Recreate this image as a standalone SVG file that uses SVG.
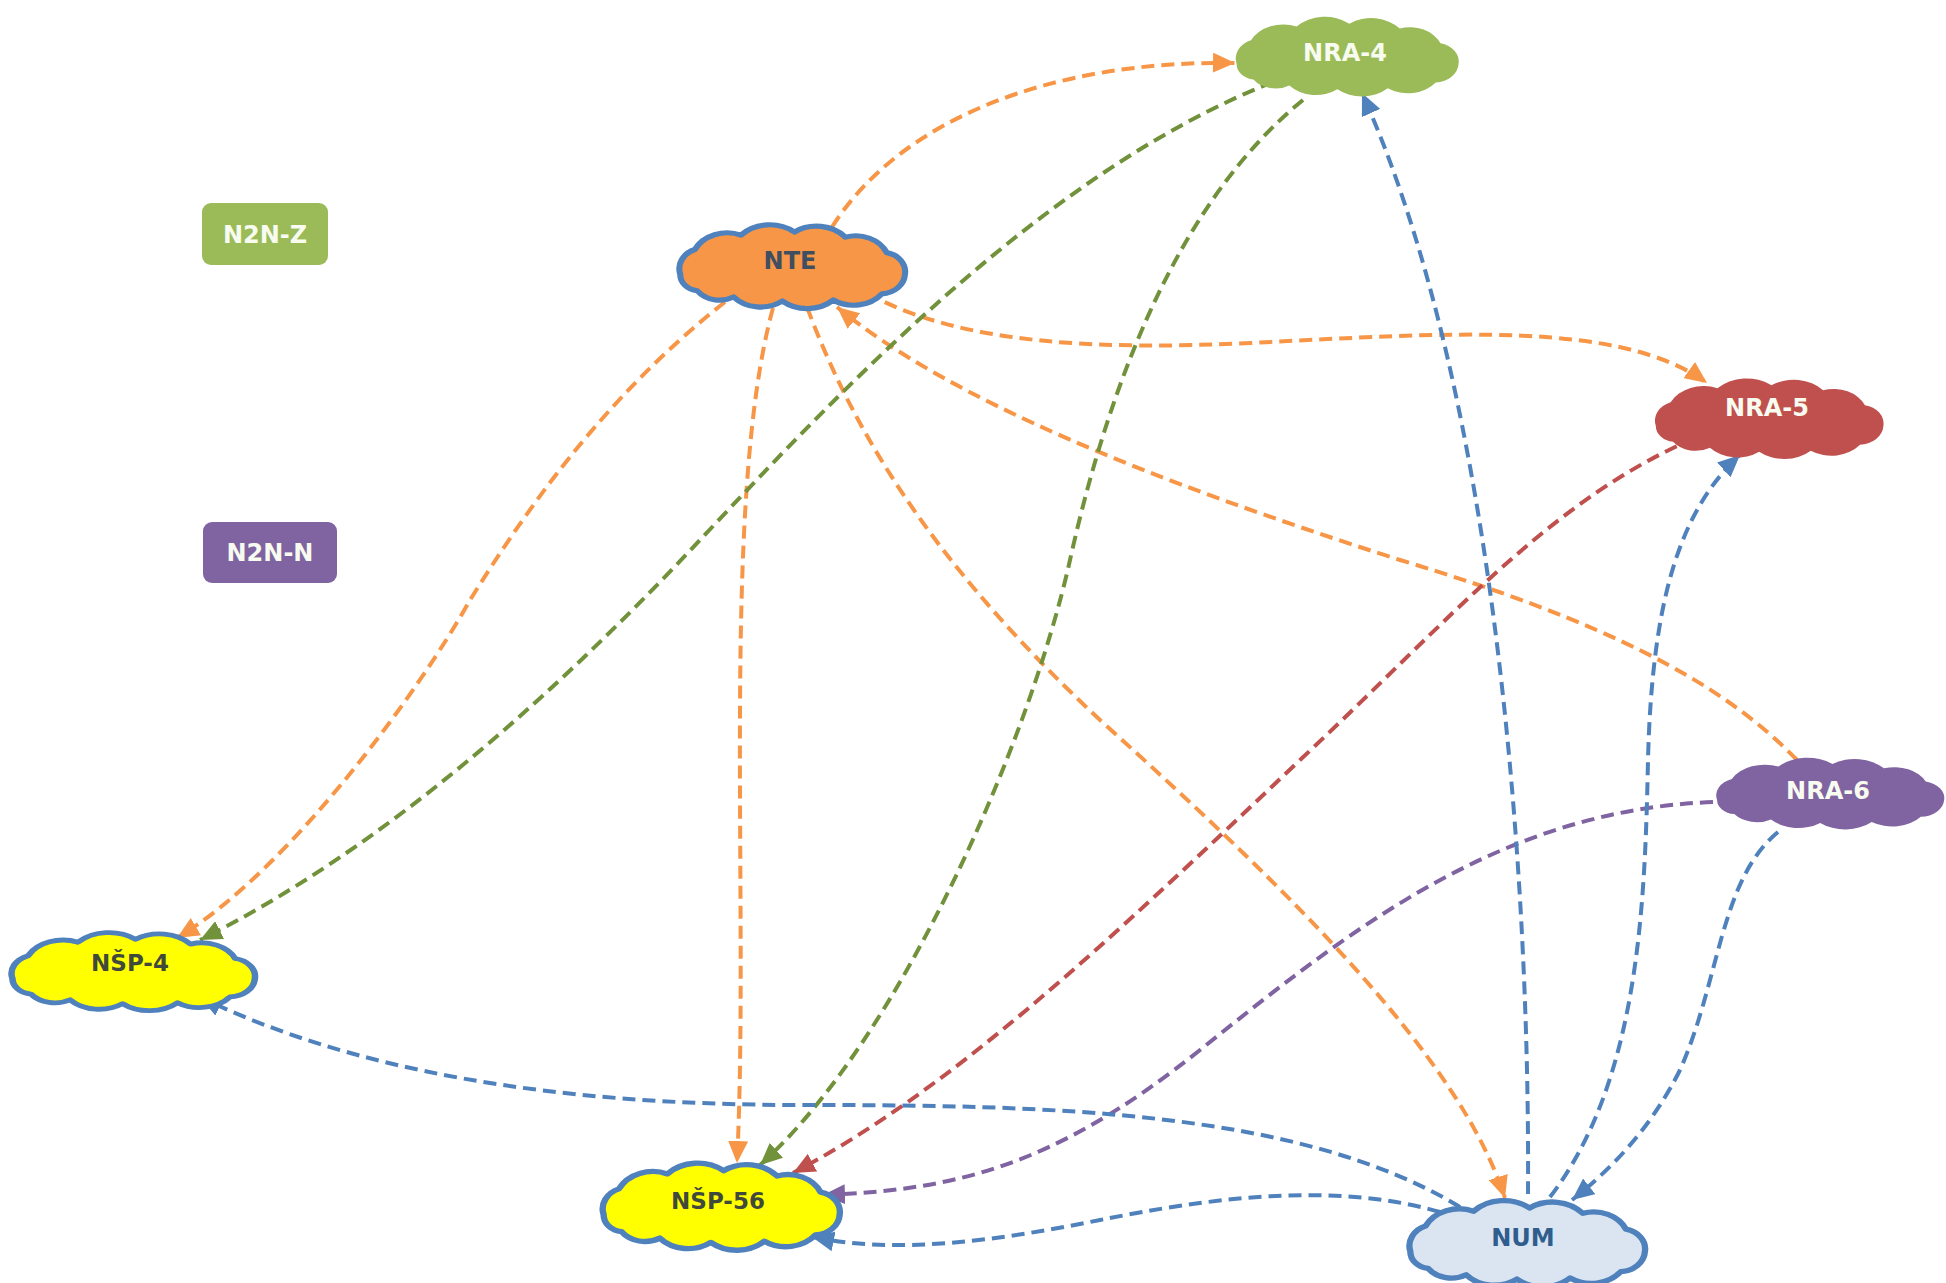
<svg xmlns="http://www.w3.org/2000/svg" width="1946" height="1283" viewBox="0 0 1946 1283">
<style>
.bg{fill:#ffffff}
.cloud{vector-effect:non-scaling-stroke;stroke-linejoin:round}
.edge{fill:none;stroke-width:4;stroke-dasharray:13 7}
.o{stroke:#f79646}.g{stroke:#71913a}.r{stroke:#c0504d}.p{stroke:#8064a2}.b{stroke:#4f81bd}
.lbl{font-family:"DejaVu Sans","Liberation Sans",sans-serif;font-weight:bold;font-size:24px;text-anchor:middle}
.w{fill:#f8fbef}.dk{fill:#3f4e60}.ns{fill:#3f4a3c;font-size:23px}.nu{fill:#2f5e8e}
</style>
<defs>
<path id="cl" d="M-92,8 A20,20 0 0 1 -80,-16 A30,30 0 0 1 -42,-30 A33,33 0 0 1 2,-33 A32,32 0 0 1 44,-28 A28,28 0 0 1 78,-13 A19,19 0 0 1 93,8 A20,20 0 0 1 74,27 A30,30 0 0 1 34,33 A32,32 0 0 1 -8,34 A30,30 0 0 1 -48,30 A23,23 0 0 1 -78,24 A16,16 0 0 1 -92,8 Z"/>
<marker id="ao" markerUnits="userSpaceOnUse" markerWidth="24" markerHeight="20" refX="22" refY="10" orient="auto"><path d="M0,0 L22,10 L0,20 z" fill="#f79646"/></marker>
<marker id="ag" markerUnits="userSpaceOnUse" markerWidth="24" markerHeight="20" refX="22" refY="10" orient="auto"><path d="M0,0 L22,10 L0,20 z" fill="#71913a"/></marker>
<marker id="ar" markerUnits="userSpaceOnUse" markerWidth="24" markerHeight="20" refX="22" refY="10" orient="auto"><path d="M0,0 L22,10 L0,20 z" fill="#c0504d"/></marker>
<marker id="ap" markerUnits="userSpaceOnUse" markerWidth="24" markerHeight="20" refX="22" refY="10" orient="auto"><path d="M0,0 L22,10 L0,20 z" fill="#8064a2"/></marker>
<marker id="ab" markerUnits="userSpaceOnUse" markerWidth="24" markerHeight="20" refX="22" refY="10" orient="auto"><path d="M0,0 L22,10 L0,20 z" fill="#4f81bd"/></marker>
</defs>
<rect class="bg" x="0" y="0" width="1946" height="1283"/>
<g id="connectors">
<path class="edge o" marker-end="url(#ao)" d="M832,227 C900,120 1050,60 1235,63"/>
<path class="edge o" marker-end="url(#ao)" d="M867,293 C960,345 1100,350 1250,343 C1450,333 1620,320 1707,383"/>
<path class="edge o" marker-end="url(#ao)" d="M725,302 C600,400 520,520 470,600 C420,690 290,870 177,938"/>
<path class="edge o" marker-end="url(#ao)" d="M773,308 C720,500 750,900 737,1163"/>
<path class="edge o" marker-end="url(#ao)" d="M807,307 C860,450 950,580 1100,720 C1300,900 1460,1060 1505,1198"/>
<path class="edge o" marker-end="url(#ao)" d="M1797,760 C1720,680 1600,620 1400,560 C1150,480 950,400 837,307"/>
<path class="edge g" marker-end="url(#ag)" d="M1273,82 C1050,170 850,380 700,540 C550,700 380,850 200,940"/>
<path class="edge g" marker-end="url(#ag)" d="M1303,100 C1180,200 1110,380 1070,560 C1030,740 900,1040 760,1165"/>
<path class="edge r" marker-end="url(#ar)" d="M1695,438 C1550,500 1450,620 1300,760 C1100,950 950,1090 793,1173"/>
<path class="edge p" marker-end="url(#ap)" d="M1713,802 C1500,810 1350,930 1200,1050 C1050,1170 950,1190 823,1195"/>
<path class="edge b" marker-end="url(#ab)" d="M1528,1194 C1530,900 1500,400 1362,93"/>
<path class="edge b" marker-end="url(#ab)" d="M1550,1197 C1640,1080 1645,900 1648,760 C1652,600 1680,510 1740,455"/>
<path class="edge b" marker-end="url(#ab)" d="M1778,832 C1720,880 1720,980 1680,1070 C1650,1130 1610,1170 1572,1200"/>
<path class="edge b" marker-end="url(#ab)" d="M1460,1207 C1300,1110 1050,1105 800,1105 C550,1105 350,1070 200,997"/>
<path class="edge b" marker-end="url(#ab)" d="M1440,1212 C1330,1180 1200,1200 1100,1220 C1000,1240 900,1255 812,1237"/>
</g>
<g id="node-N2N-Z"><rect x="202" y="203" width="126" height="62" rx="9" fill="#9bbb59"/><text class="lbl w" x="265" y="243">N2N-Z</text></g>
<g id="node-N2N-N"><rect x="203" y="522" width="134" height="61" rx="9" fill="#8064a2"/><text class="lbl w" x="270" y="561">N2N-N</text></g>
<g id="node-NRA-4"><use href="#cl" class="cloud" transform="translate(1347,56) scale(1.2,0.98)" fill="#9bbb59"/><text class="lbl w" x="1345" y="61">NRA-4</text></g>
<g id="node-NTE"><use href="#cl" class="cloud" transform="translate(792,266) scale(1.215,1.03)" fill="#f79646" stroke="#4f81bd" stroke-width="5"/><text class="lbl dk" x="790" y="269">NTE</text></g>
<g id="node-NRA-5"><use href="#cl" class="cloud" transform="translate(1769,418) scale(1.23,0.99)" fill="#c0504d"/><text class="lbl w" x="1767" y="416">NRA-5</text></g>
<g id="node-NRA-6"><use href="#cl" class="cloud" transform="translate(1830,793) scale(1.227,0.88)" fill="#8064a2"/><text class="lbl w" x="1828" y="799">NRA-6</text></g>
<g id="node-NSP-4"><use href="#cl" class="cloud" transform="translate(133,971) scale(1.31,0.96)" fill="#ffff00" stroke="#4f81bd" stroke-width="5"/><text class="lbl ns" x="130" y="971">NŠP-4</text></g>
<g id="node-NSP-56"><use href="#cl" class="cloud" transform="translate(721,1206) scale(1.276,1.07)" fill="#ffff00" stroke="#4f81bd" stroke-width="5"/><text class="lbl ns" x="718" y="1209">NŠP-56</text></g>
<g id="node-NUM"><use href="#cl" class="cloud" transform="translate(1527,1243) scale(1.268,1.06)" fill="#dbe5f1" stroke="#4f81bd" stroke-width="5"/><text class="lbl nu" x="1523" y="1246">NUM</text></g>
</svg>
